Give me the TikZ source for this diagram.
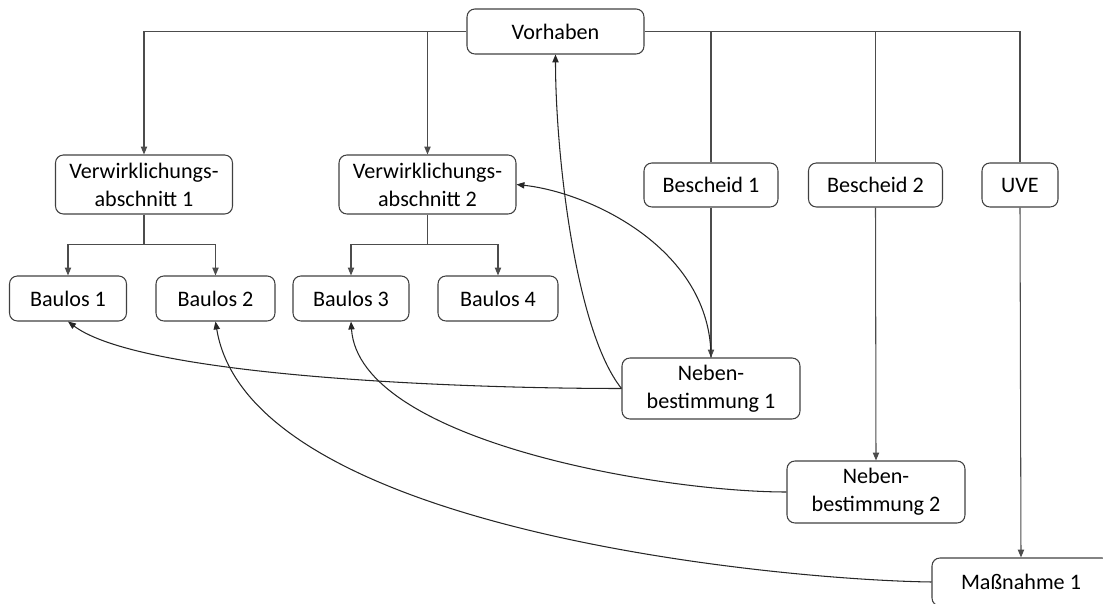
\documentclass[tikz,border=0pt]{standalone}
\usepackage{fontspec}
\setmainfont{Carlito}
\usetikzlibrary{arrows.meta}

\begin{document}
\begin{tikzpicture}[x=0.02cm, y=-0.02cm,
        box/.style={draw=black!75, line width=0.6pt, rounded corners=4.5pt, align=center,
                inner sep=0pt, font=\fontsize{12.6}{16}\selectfont},
        link/.style={draw=black!70, line width=0.6pt},
        arrow/.style={link, -{Triangle[length=4.5pt,width=3.6pt]}},
        bow/.style={draw=black!85, line width=0.6pt, -{Triangle[length=4.5pt,width=3.6pt]}}]

            \useasboundingbox (0,0) rectangle (1103,604);
            \clip (0,0) rectangle (1103,604);

            % top level
            \node[box, minimum width=3.54cm, minimum height=0.9cm] (vorhaben) at (555.5,31.5) {Vorhaben};

            % sections
            \node[box, minimum width=3.54cm, minimum height=1.18cm] (va1) at (144,184.5) {Verwirklichungs-\\abschnitt 1};
            \node[box, minimum width=3.54cm, minimum height=1.18cm] (va2) at (427.5,184.5) {Verwirklichungs-\\abschnitt 2};
            \node[box, minimum width=2.68cm, minimum height=0.88cm] (bescheid1) at (711,185) {Bescheid 1};
            \node[box, minimum width=2.68cm, minimum height=0.88cm] (bescheid2) at (875.5,185) {Bescheid 2};
            \node[box, minimum width=1.52cm, minimum height=0.88cm] (uve) at (1020,185) {UVE};

            % lots
            \node[box, minimum width=2.34cm, minimum height=0.9cm] (baulos1) at (68,298.5) {Baulos 1};
            \node[box, minimum width=2.38cm, minimum height=0.9cm] (baulos2) at (215.5,298.5) {Baulos 2};
            \node[box, minimum width=2.32cm, minimum height=0.9cm] (baulos3) at (351,298.5) {Baulos 3};
            \node[box, minimum width=2.4cm, minimum height=0.9cm] (baulos4) at (498,298.5) {Baulos 4};

            % conditions
            \node[box, minimum width=3.56cm, minimum height=1.22cm] (neben1) at (711,388.5) {Neben-\\bestimmung 1};
            \node[box, minimum width=3.56cm, minimum height=1.24cm] (neben2) at (876,492) {Neben-\\bestimmung 2};
            \node[box, minimum width=3.56cm, minimum height=0.96cm] (massnahme) at (1021,582) {Maßnahme 1};

            % tree
            \draw[arrow] (vorhaben.west) -| (va1.north);
            \draw[arrow] (va2.north |- vorhaben.west) -- (va2.north);
            \draw[link] (vorhaben.east) -| (uve.north);
            \draw[link] (bescheid1.north |- vorhaben.east) -- (bescheid1.north);
            \draw[link] (bescheid2.north |- vorhaben.east) -- (bescheid2.north);

            \draw[arrow] (va1.south) -- ++(0,30) coordinate (split1) -| (baulos1.north);
            \draw[arrow] (split1) -| (baulos2.north);
            \draw[arrow] (va2.south) -- ++(0,30) coordinate (split2) -| (baulos3.north);
            \draw[arrow] (split2) -| (baulos4.north);

            \draw[arrow] (bescheid1.south) -- (neben1.north);
            \draw[arrow] (bescheid2.south) -- (neben2.north);
            \draw[arrow] (uve.south) -- (massnahme.north);

            % references
            \draw[bow] (neben1.west) .. controls +(-172,0) and +(72,54) .. (baulos1.south);
            \draw[bow] (neben1.west) .. controls +(-47,-59) and +(0,96) .. (vorhaben.south);
            \draw[bow] (neben1.north) .. controls +(0,-108) and +(74,8) .. (va2.east);
            \draw[bow] (neben2.west) .. controls +(-127,0) and +(8,119) .. (baulos3.south);
            \draw[bow] (massnahme.west) .. controls +(-152,-2) and +(34,209) .. (baulos2.south);
        \end{tikzpicture}
\end{document}
